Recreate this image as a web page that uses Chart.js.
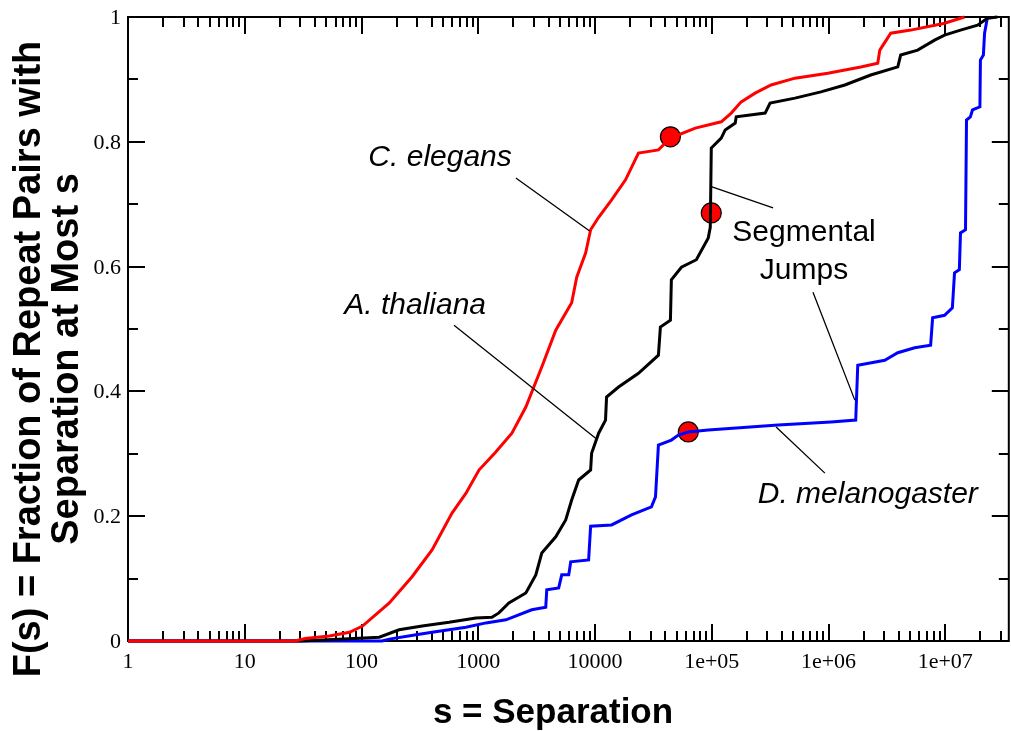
<!DOCTYPE html>
<html>
<head>
<meta charset="utf-8">
<script src="https://cdn.jsdelivr.net/npm/chart.js@4.4.1/dist/chart.umd.min.js"></script>
<style>
  html, body { margin: 0; padding: 0; overflow: hidden; background: #fff; }
  canvas { display: block; }
</style>
</head>
<body>
<canvas id="cdfChart" width="1020" height="731"></canvas>
<script>
// separation s and cumulative fraction F(s) of repeat pairs, per genome
const elegansSep = [1, 27, 33, 53, 79, 102, 173, 271, 402, 596, 785, 1014, 1400, 1941, 2555, 3499, 4610, 6310, 6970, 8318, 9170, 10740, 13870, 18250, 23560, 34920, 44240, 72300, 120500, 146800, 178700, 235000, 322000, 516000, 988000, 1890000, 2640000, 2750000, 3410000, 5060000, 9860000, 14600000];
const elegansFrac = [0, 0, 0.004, 0.008, 0.014, 0.024, 0.061, 0.103, 0.146, 0.205, 0.237, 0.274, 0.302, 0.333, 0.375, 0.439, 0.498, 0.542, 0.583, 0.622, 0.659, 0.679, 0.707, 0.739, 0.782, 0.787, 0.806, 0.822, 0.832, 0.846, 0.864, 0.878, 0.891, 0.902, 0.910, 0.920, 0.926, 0.947, 0.974, 0.979, 0.990, 1.0];

const thalianaSep = [1, 30, 64, 142, 210, 331, 562, 955, 1309, 1503, 1829, 2555, 3111, 3499, 4610, 5610, 6310, 7244, 9170, 9350, 10740, 12300, 12560, 15910, 23560, 34920, 36310, 44240, 45080, 54950, 73790, 93330, 97080, 99060, 120500, 130300, 158800, 161900, 286400, 316000, 516000, 861000, 1380000, 2300000, 3920000, 4150000, 5800000, 8100000, 9860000, 13500000, 18900000, 23000000, 28000000];
const thalianaFrac = [0, 0, 0.003, 0.006, 0.018, 0.024, 0.030, 0.037, 0.038, 0.045, 0.061, 0.077, 0.106, 0.141, 0.167, 0.194, 0.226, 0.258, 0.274, 0.301, 0.333, 0.354, 0.391, 0.407, 0.429, 0.458, 0.503, 0.514, 0.579, 0.599, 0.611, 0.646, 0.663, 0.790, 0.806, 0.819, 0.830, 0.840, 0.846, 0.862, 0.870, 0.880, 0.891, 0.907, 0.920, 0.939, 0.947, 0.963, 0.971, 0.979, 0.987, 0.998, 1.0];

const melanoSep = [1, 150, 173, 294, 402, 785, 1164, 1725, 2874, 3784, 3862, 4887, 5188, 5957, 6194, 8817, 9170, 13870, 20560, 30430, 32960, 34920, 45080, 51760, 62970, 93330, 370000, 1050000, 1710000, 1780000, 3030000, 3920000, 5470000, 7490000, 7790000, 9860000, 11500000, 12000000, 13200000, 13500000, 14900000, 15200000, 16400000, 17100000, 19800000, 20000000, 21200000, 21700000, 23000000];
const melanoFrac = [0, 0, 0.003, 0.010, 0.014, 0.022, 0.029, 0.034, 0.050, 0.054, 0.082, 0.085, 0.106, 0.106, 0.127, 0.130, 0.184, 0.186, 0.202, 0.215, 0.231, 0.314, 0.322, 0.330, 0.335, 0.338, 0.346, 0.351, 0.354, 0.442, 0.450, 0.462, 0.470, 0.474, 0.518, 0.522, 0.534, 0.590, 0.595, 0.654, 0.659, 0.835, 0.840, 0.851, 0.856, 0.931, 0.939, 0.974, 1.0];

// highlighted points on the three curves
const markerSep = [44240, 99060, 62970];
const markerFrac = [0.808, 0.686, 0.335];

const xTickValues = [1, 10, 100, 1000, 10000, 1e5, 1e6, 1e7];
const xTickLabels = ['1', '10', '100', '1000', '10000', '1e+05', '1e+06', '1e+07'];
const yTickValues = [0, 0.2, 0.4, 0.6, 0.8, 1];
const yTickLabels = ['0', '0.2', '0.4', '0.6', '0.8', '1'];

const toPoints = (xs, ys) => xs.map((v, i) => ({ x: v, y: ys[i] }));

// callout labels: text anchor and leader line, in data coordinates
const callouts = [
  { lines: ['C. elegans'], at: [471, 0.774], italic: true, from: [2099, 0.742], to: [8995, 0.657] },
  { lines: ['A. thaliana'], at: [288, 0.537], italic: true, from: [620, 0.506], to: [10120, 0.325] },
  { lines: ['Segmental', 'Jumps'], at: [617000, 0.655], italic: false, from: [99000, 0.728], to: [335000, 0.694] },
  { lines: [], at: null, from: [736000, 0.559], to: [1680000, 0.386] },
  { lines: ['D. melanogaster'], at: [2170000, 0.234], italic: true, from: [355600, 0.343], to: [931000, 0.269] }
];

const axisFrame = {
  id: 'axisFrame',
  beforeDatasetsDraw(chart) {
    const { ctx, chartArea: a, scales: { x, y } } = chart;
    ctx.save();
    ctx.strokeStyle = '#000';
    ctx.lineWidth = 2;
    ctx.strokeRect(a.left, a.top, a.right - a.left, a.bottom - a.top);

    // inward ticks on all four sides
    ctx.beginPath();
    for (let d = 1; d <= 1e7; d *= 10) {
      for (let m = 1; m <= 9; m++) {
        const v = d * m;
        if (v > x.max) break;
        const px = Math.round(x.getPixelForValue(v));
        const len = m === 1 ? 17 : 10;
        ctx.moveTo(px, a.bottom); ctx.lineTo(px, a.bottom - len);
        ctx.moveTo(px, a.top); ctx.lineTo(px, a.top + len);
      }
    }
    for (let i = 0; i <= 10; i++) {
      const py = Math.round(y.getPixelForValue(i / 10));
      const len = i % 2 === 0 ? 17 : 10;
      ctx.moveTo(a.left, py); ctx.lineTo(a.left + len, py);
      ctx.moveTo(a.right, py); ctx.lineTo(a.right - len, py);
    }
    ctx.stroke();

    ctx.fillStyle = '#000';
    ctx.font = '22px "Liberation Serif", "Times New Roman", serif';
    ctx.textBaseline = 'alphabetic';
    ctx.textAlign = 'center';
    xTickValues.forEach((v, i) => {
      ctx.fillText(xTickLabels[i], x.getPixelForValue(v), a.bottom + 27);
    });
    ctx.textAlign = 'right';
    yTickValues.forEach((v, i) => {
      ctx.fillText(yTickLabels[i], a.left - 7, y.getPixelForValue(v) + 7);
    });

    // axis titles
    ctx.font = 'bold 35px "Liberation Sans", Arial, sans-serif';
    ctx.textAlign = 'center';
    ctx.fillText('s = Separation', 553, 723);
    ctx.font = 'bold 38px "Liberation Sans", Arial, sans-serif';
    ctx.translate(0, 359);
    ctx.rotate(-Math.PI / 2);
    ctx.fillText('F(s) = Fraction of Repeat Pairs with', 0, 40);
    ctx.fillText('Separation at Most s', 0, 78);
    ctx.restore();
  },
  afterDatasetsDraw(chart) {
    const { ctx, scales: { x, y } } = chart;
    ctx.save();
    ctx.strokeStyle = '#000';
    ctx.lineWidth = 1.3;
    ctx.beginPath();
    callouts.forEach(c => {
      ctx.moveTo(x.getPixelForValue(c.from[0]), y.getPixelForValue(c.from[1]));
      ctx.lineTo(x.getPixelForValue(c.to[0]), y.getPixelForValue(c.to[1]));
    });
    ctx.stroke();
    ctx.fillStyle = '#000';
    ctx.textAlign = 'center';
    ctx.textBaseline = 'middle';
    callouts.forEach(c => {
      if (!c.at) return;
      ctx.font = (c.italic ? 'italic ' : '') + '30px "Liberation Sans", Arial, sans-serif';
      const cx = x.getPixelForValue(c.at[0]);
      const cy = y.getPixelForValue(c.at[1]);
      c.lines.forEach((t, i) => ctx.fillText(t, cx, cy + i * 38));
    });
    ctx.restore();
  }
};

new Chart(document.getElementById('cdfChart'), {
  type: 'scatter',
  data: {
    datasets: [
      {
        label: 'C. elegans',
        data: toPoints(elegansSep, elegansFrac),
        showLine: true,
        borderColor: '#ff0000',
        borderWidth: 3,
        pointRadius: 0,
        clip: false
      },
      {
        label: 'A. thaliana',
        data: toPoints(thalianaSep, thalianaFrac),
        showLine: true,
        borderColor: '#000000',
        borderWidth: 3,
        pointRadius: 0,
        clip: false
      },
      {
        label: 'D. melanogaster',
        data: toPoints(melanoSep, melanoFrac),
        showLine: true,
        borderColor: '#0000ff',
        borderWidth: 3,
        pointRadius: 0,
        clip: false
      },
      {
        label: 'markers',
        data: toPoints(markerSep, markerFrac),
        showLine: false,
        pointRadius: 10,
        backgroundColor: '#ff0000',
        borderColor: '#000000',
        borderWidth: 1.2,
        clip: false
      }
    ]
  },
  options: {
    responsive: false,
    animation: false,
    devicePixelRatio: 1,
    layout: { padding: { left: 128, top: 17, right: 8, bottom: 90 } },
    plugins: {
      legend: { display: false },
      tooltip: { enabled: false }
    },
    scales: {
      x: { type: 'logarithmic', min: 1, max: 3.5e7, display: false },
      y: { type: 'linear', min: 0, max: 1, display: false }
    }
  },
  plugins: [axisFrame]
});
</script>
</body>
</html>
